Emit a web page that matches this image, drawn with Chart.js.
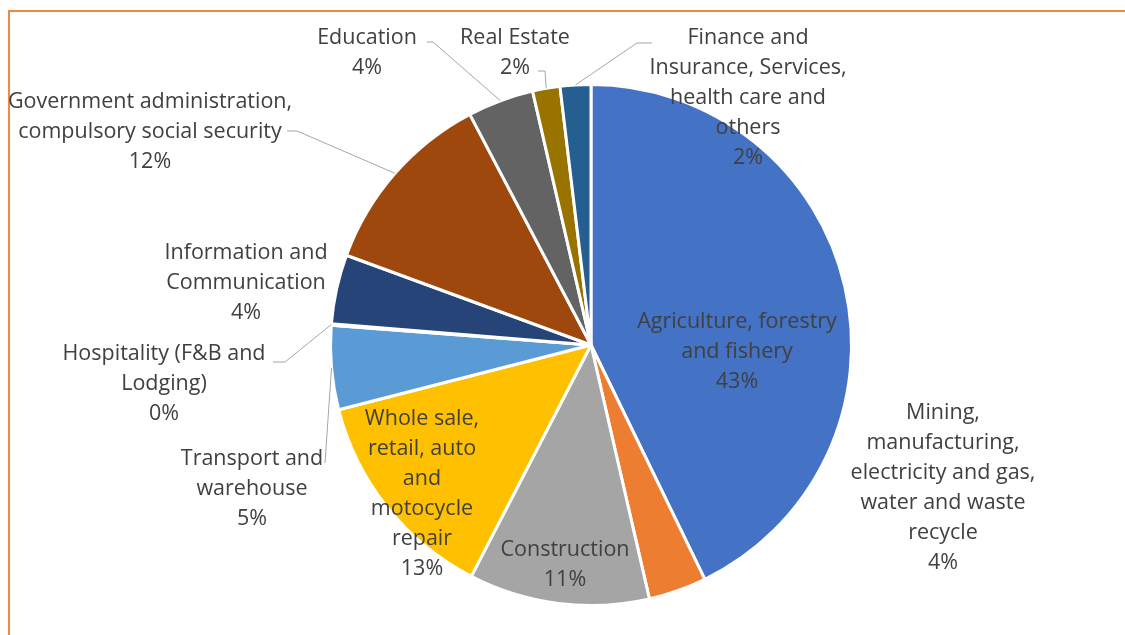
<!DOCTYPE html>
<html>
<head>
<meta charset="utf-8">
<script src="https://cdn.jsdelivr.net/npm/chart.js@4.4.1/dist/chart.umd.min.js"></script>
<style>
    html, body { margin: 0; padding: 0; background: #fff; }
    #wrap { position: relative; width: 1125px; height: 635px; }
</style>
</head>
<body>
<div id="wrap"><canvas id="pie" width="1125" height="635"></canvas></div>
<script>
// Sector names (line breaks as wrapped in the original labels)
const categories = [
    'Agriculture, forestry\nand fishery',
    'Mining,\nmanufacturing,\nelectricity and gas,\nwater and waste\nrecycle',
    'Construction',
    'Whole sale,\nretail, auto\nand\nmotocycle\nrepair',
    'Transport and\nwarehouse',
    'Hospitality (F&B and\nLodging)',
    'Information and\nCommunication',
    'Government administration,\ncompulsory social security',
    'Education',
    'Real Estate',
    'Finance and\nInsurance, Services,\nhealth care and\nothers'
];

// Share of each sector (%)
const shares = [42.8, 3.6, 11.2, 13.4, 5.2, 0.1, 4.3, 11.7, 4.1, 1.7, 1.9];

const sliceColors = [
    '#4472C4', '#ED7D31', '#A5A5A5', '#FFC000', '#5B9BD5', '#70AD47',
    '#264478', '#9E480E', '#636363', '#997300', '#255E91'
];

// Label placement: centre x and y of the first text line
const labelPos = [
    [737, 322], [943, 413], [565, 550], [422, 419], [252, 459], [164, 354],
    [246, 253], [150, 102], [367, 38], [515, 38], [748, 38]
];

// Leader line elbows (end point is taken from the slice itself)
const leaders = {
    4: [[325, 463]],
    5: [[273, 362], [285, 362]],
    7: [[287, 131], [297, 131]],
    8: [[427, 42], [433, 42]],
    9: [[538, 71], [545, 71]],
    10: [[652, 43], [637, 43]]
};

const LINE_H = 30;

// Frame + labels
const labelPlugin = {
    id: 'sectorLabels',
    beforeDraw(chart) {
        const c = chart.ctx;
        c.save();
        c.strokeStyle = '#F08A3E';
        c.lineWidth = 2;
        c.beginPath();
        c.moveTo(9, 635);
        c.lineTo(9, 11);
        c.lineTo(1125, 11);
        c.stroke();
        c.restore();
    },
    afterDatasetsDraw(chart) {
        const c = chart.ctx;
        const meta = chart.getDatasetMeta(0);
        const total = shares.reduce((a, b) => a + b, 0);
        c.save();

        // leader lines
        c.strokeStyle = '#A6A6A6';
        c.lineWidth = 1;
        Object.keys(leaders).forEach(k => {
            const arc = meta.data[k];
            const p = arc.getProps(['x', 'y', 'startAngle', 'endAngle', 'outerRadius'], true);
            const mid = (p.startAngle + p.endAngle) / 2;
            const ex = p.x + Math.cos(mid) * p.outerRadius;
            const ey = p.y + Math.sin(mid) * p.outerRadius;
            c.beginPath();
            leaders[k].forEach((pt, i) => i ? c.lineTo(pt[0], pt[1]) : c.moveTo(pt[0], pt[1]));
            c.lineTo(ex, ey);
            c.stroke();
        });

        // texts
        c.fillStyle = '#404040';
        c.font = '21.5px "Open Sans"';
        c.textAlign = 'center';
        c.textBaseline = 'middle';
        categories.forEach((name, i) => {
            const lines = name.split('\n');
            lines.push(Math.round(shares[i] / total * 100) + '%');
            lines.forEach((ln, j) => {
                c.fillText(ln, labelPos[i][0], labelPos[i][1] + j * LINE_H);
            });
        });
        c.restore();
    }
};

new Chart(document.getElementById('pie'), {
    type: 'pie',
    data: {
        labels: categories,
        datasets: [{
            data: shares,
            backgroundColor: sliceColors,
            borderColor: '#ffffff',
            borderWidth: 3
        }]
    },
    options: {
        responsive: false,
        animation: false,
        layout: {
            padding: { left: 329, right: 272, top: 82, bottom: 27 }
        },
        plugins: {
            legend: { display: false },
            tooltip: { enabled: false }
        }
    },
    plugins: [labelPlugin]
});
</script>
</body>
</html>
